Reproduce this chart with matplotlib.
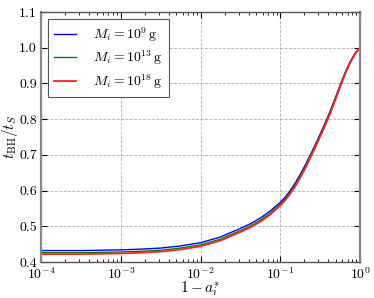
import numpy as np
import matplotlib
matplotlib.use("Agg")
import matplotlib.pyplot as plt
from matplotlib.ticker import LogLocator, FixedLocator

# Data (log10 of 1 - a_i^*)
log_x = [-4.0, -3.75, -3.5, -3.25, -3.0, -2.75, -2.5, -2.25, -2.0, -1.75, -1.5,
         -1.375, -1.25, -1.125, -1.0, -0.9375, -0.875, -0.8125, -0.75, -0.6875, -0.625,
         -0.5625, -0.5, -0.4375, -0.375, -0.3125, -0.25, -0.1875, -0.125, -0.0625, 0.0]
ratio_1e9 = [0.432, 0.432, 0.432, 0.433, 0.434, 0.436, 0.439, 0.445, 0.454, 0.470, 0.494,
             0.507, 0.523, 0.543, 0.567, 0.582, 0.600, 0.621, 0.645, 0.671, 0.699,
             0.728, 0.758, 0.789, 0.822, 0.858, 0.895, 0.930, 0.960, 0.984, 1.000]
ratio_1e13 = [0.426, 0.426, 0.426, 0.427, 0.428, 0.430, 0.433, 0.439, 0.448, 0.464, 0.488,
              0.501, 0.517, 0.537, 0.562, 0.577, 0.595, 0.616, 0.640, 0.666, 0.695,
              0.724, 0.754, 0.785, 0.818, 0.855, 0.892, 0.927, 0.958, 0.983, 1.000]
ratio_1e18 = [0.422, 0.422, 0.422, 0.423, 0.424, 0.426, 0.429, 0.435, 0.444, 0.460, 0.484,
              0.497, 0.513, 0.533, 0.558, 0.573, 0.591, 0.612, 0.636, 0.662, 0.691,
              0.720, 0.751, 0.782, 0.815, 0.852, 0.890, 0.926, 0.957, 0.982, 1.000]
labels = [r"$M_i = 10^{9}\,\mathrm{g}$", r"$M_i = 10^{13}\,\mathrm{g}$", r"$M_i = 10^{18}\,\mathrm{g}$"]

plt.rcParams['font.family'] = 'serif'
plt.rcParams['font.serif'] = ['cmr10']
plt.rcParams['mathtext.fontset'] = 'cm'
plt.rcParams['axes.formatter.use_mathtext'] = True
plt.rcParams['axes.unicode_minus'] = False

fig = plt.figure(figsize=(3.74, 2.98), dpi=100)
ax = fig.add_axes([0.1096, 0.1208, 0.8530, 0.8389])

x = 10.0 ** np.array(log_x)
ax.plot(x, ratio_1e9, color='#0000ff', lw=1.0, label=labels[0])
ax.plot(x, ratio_1e13, color='#008000', lw=1.0, label=labels[1])
ax.plot(x, ratio_1e18, color='#ff2020', lw=1.3, label=labels[2])

ax.set_xscale('log')
ax.set_xlim(1e-4, 1)
ax.set_ylim(0.4, 1.1)
ax.set_yticks([0.4, 0.5, 0.6, 0.7, 0.8, 0.9, 1.0, 1.1])
ax.set_yticklabels(["0.4", "0.5", "0.6", "0.7", "0.8", "0.9", "1.0", "1.1"])
ax.xaxis.set_major_locator(FixedLocator([1e-4, 1e-3, 1e-2, 1e-1, 1]))
ax.xaxis.set_minor_locator(LogLocator(base=10, subs=np.arange(2, 10)))
ax.set_xticklabels([r"$10^{-4}$", r"$10^{-3}$", r"$10^{-2}$", r"$10^{-1}$", r"$10^{0}$"])

ax.grid(True, which='major', color='#b0b0b0', linestyle='--', linewidth=0.6)
ax.tick_params(direction='in', which='both', top=True, right=True, labelsize=10, pad=3)
ax.tick_params(which='major', length=4)
ax.tick_params(which='minor', length=2)
for s in ['top', 'bottom']:
    ax.spines[s].set_color('#555555')
    ax.spines[s].set_linewidth(1.0)
for s in ['left', 'right']:
    ax.spines[s].set_color('#888888')
    ax.spines[s].set_linewidth(1.6)

ax.set_xlabel(r"$1 - a_i^{*}$", fontsize=11, labelpad=-2)
ax.set_ylabel(r"$t_{\mathrm{BH}}/t_{S}$", fontsize=11, labelpad=-1)

leg = ax.legend(loc='upper left', fontsize=10, fancybox=False, edgecolor='#555555',
                framealpha=1, borderpad=0.45, handlelength=1.6, handletextpad=1.2,
                labelspacing=0.35, borderaxespad=0.5)
leg.get_frame().set_linewidth(0.8)

fig.savefig("out.png", dpi=100)
